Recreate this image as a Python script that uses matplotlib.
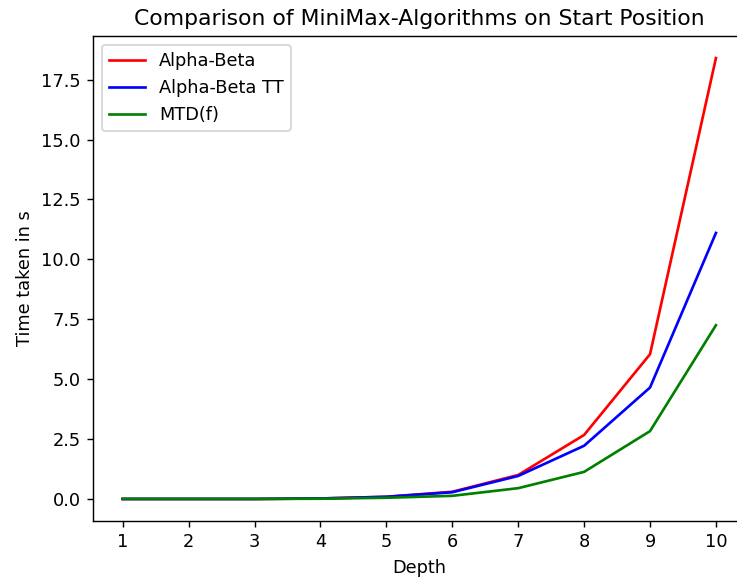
import matplotlib
matplotlib.use("Agg")
import matplotlib.pyplot as plt

depth = [1, 2, 3, 4, 5, 6, 7, 8, 9, 10]
alpha_beta = [0.0, 0.0, 0.0, 0.02, 0.09, 0.3, 1.0, 2.67, 6.04, 18.4]
alpha_beta_tt = [0.0, 0.0, 0.0, 0.02, 0.09, 0.28, 0.96, 2.22, 4.65, 11.1]
mtd_f = [0.0, 0.0, 0.0, 0.01, 0.05, 0.13, 0.45, 1.13, 2.83, 7.25]

DPI = 128
fig = plt.figure(figsize=(737 / DPI, 582 / DPI), dpi=DPI)
W, H = 737, 582
left, right, top, bottom = 93, 745.6, 36, 521
ax = fig.add_axes([left / W, 1 - bottom / H, (right - left) / W, (bottom - top) / H])

ax.plot(depth, alpha_beta, color="red", label="Alpha-Beta")
ax.plot(depth, alpha_beta_tt, color="blue", label="Alpha-Beta TT")
ax.plot(depth, mtd_f, color="green", label="MTD(f)")
ax.set_xticks(depth)
ax.set_xlabel("Depth")
ax.set_ylabel("Time taken in s")
ax.set_title("Comparison of MiniMax-Algorithms on Start Position", fontsize=12.3)
ax.spines["right"].set_visible(False)
ax.legend(loc="upper left")

fig.savefig("out.png", dpi=DPI)
